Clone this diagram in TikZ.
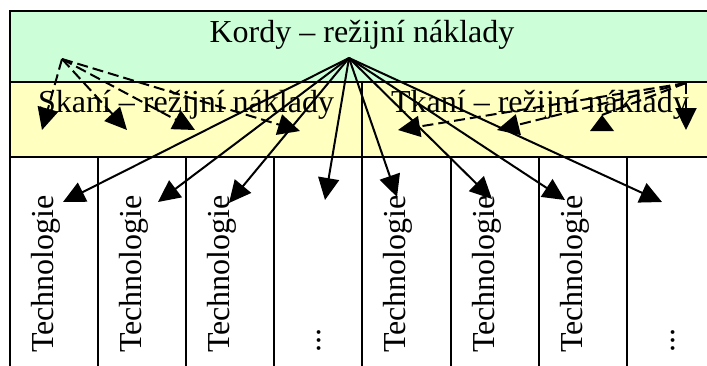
\documentclass[tikz,border=0pt]{standalone}
\usepackage{fontspec}
\setmainfont{Liberation Serif}
\usetikzlibrary{arrows.meta}
\definecolor{mint}{RGB}{204,255,216}
\definecolor{cream}{RGB}{255,255,192}
\begin{document}
\begin{tikzpicture}[x=1pt,y=-1pt,
  font=\fontsize{32}{38}\selectfont,
  frame/.style={line width=2.2pt},
  sep/.style={line width=1.8pt},
  arr/.style={-{Triangle[length=22pt,width=21pt]}, line width=2pt},
  darr/.style={arr, dash pattern=on 11pt off 5pt},
  techlabel/.style={rotate=90, anchor=base west, inner sep=0pt}]
\useasboundingbox (0,0) rectangle (707,365);
\clip (0,0) rectangle (707,365);
% bands
\fill[mint] (10,11) rectangle (730,82);
\fill[cream] (10,82) rectangle (730,157);
\draw[frame] (10,380) -- (10,11) -- (730,11);
\draw[frame] (10,82) -- (730,82);
\draw[frame] (10,157) -- (730,157);
\draw[sep] (362,82) -- (362,157);
\foreach \x in {98,186,274,362,451,539,627}
  \draw[sep] (\x,157) -- (\x,380);
% texts
\node[anchor=base, inner sep=0pt] (kordy) at (362,42) {Kordy – režijní náklady};
\node[anchor=base, inner sep=0pt] (skani) at (186,112) {Skaní – režijní náklady};
\node[anchor=base, inner sep=0pt] (tkani) at (540,112) {Tkaní – režijní náklady};
\node[techlabel] (t1) at (53,353) {Technologie};
\node[techlabel] (t2) at (141,353) {Technologie};
\node[techlabel] (t3) at (229,353) {Technologie};
\node[techlabel] (d4) at (320,353) {...};
\node[techlabel] (t5) at (405,353) {Technologie};
\node[techlabel] (t6) at (494,353) {Technologie};
\node[techlabel] (t7) at (582,353) {Technologie};
\node[techlabel] (d8) at (674,353) {...};
% connector points
\coordinate (S) at (349,58);
\coordinate (L) at (62,59);
\coordinate (R) at (686,83);
\coordinate (c1) at (63,202);
\coordinate (c2) at (158,202);
\coordinate (c3) at (229,203);
\coordinate (c4) at (325,200);
\coordinate (c5) at (397,197);
\coordinate (c6) at (492,199);
\coordinate (c7) at (565,200);
\coordinate (c8) at (662,202);
\coordinate (s1) at (42,130);
\coordinate (s2) at (127,130);
\coordinate (s3) at (195,130);
\coordinate (s4) at (300,131);
\coordinate (k1) at (398,130);
\coordinate (k2) at (497,130);
\coordinate (k3) at (602,115);
\coordinate (k4) at (686,130);
% solid arrows
\foreach \c in {c1,c2,c3,c4,c5,c6,c7,c8}
  \draw[arr] (S) -- (\c);
% dashed arrows
\foreach \c in {s1,s2,s3,s4}
  \draw[darr] (L) -- (\c);
\foreach \c in {k1,k2,k4}
  \draw[darr] (R) -- (\c);
\draw[line width=2pt, dash pattern=on 11pt off 5pt] (R) -- (k3);
\fill (k3) -- (590,131) -- (614,131) -- cycle;
\end{tikzpicture}
\end{document}
